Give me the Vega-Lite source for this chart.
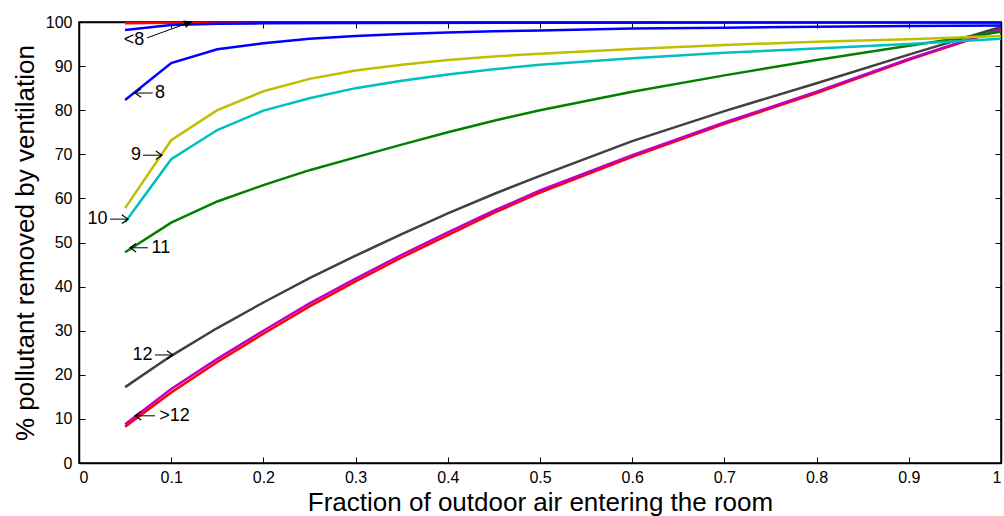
{
  "$schema": "https://vega.github.io/schema/vega-lite/v6.json",
  "width": 922,
  "height": 441,
  "autosize": {"type": "none"},
  "padding": {"left": 79, "top": 22, "right": 3, "bottom": 53},
  "background": "white",
  "config": {
    "view": {"stroke": "#000000", "strokeWidth": 1.5},
    "font": "Liberation Sans"
  },
  "datasets": {
    "curves": [
      {"s": "red_low", "x": 0.05, "y": 8.2}, {"s": "red_low", "x": 0.1, "y": 16.0}, {"s": "red_low", "x": 0.15, "y": 22.9}, {"s": "red_low", "x": 0.2, "y": 29.3}, {"s": "red_low", "x": 0.25, "y": 35.5}, {"s": "red_low", "x": 0.3, "y": 41.2}, {"s": "red_low", "x": 0.35, "y": 46.6}, {"s": "red_low", "x": 0.4, "y": 51.7}, {"s": "red_low", "x": 0.45, "y": 56.7}, {"s": "red_low", "x": 0.5, "y": 61.3}, {"s": "red_low", "x": 0.6, "y": 69.4}, {"s": "red_low", "x": 0.7, "y": 76.9}, {"s": "red_low", "x": 0.8, "y": 83.9}, {"s": "red_low", "x": 0.9, "y": 91.4}, {"s": "red_low", "x": 1.0, "y": 98.3},
      {"s": "magenta", "x": 0.05, "y": 8.8}, {"s": "magenta", "x": 0.1, "y": 16.8}, {"s": "magenta", "x": 0.15, "y": 23.6}, {"s": "magenta", "x": 0.2, "y": 30.0}, {"s": "magenta", "x": 0.25, "y": 36.2}, {"s": "magenta", "x": 0.3, "y": 41.8}, {"s": "magenta", "x": 0.35, "y": 47.2}, {"s": "magenta", "x": 0.4, "y": 52.3}, {"s": "magenta", "x": 0.45, "y": 57.2}, {"s": "magenta", "x": 0.5, "y": 61.8}, {"s": "magenta", "x": 0.6, "y": 69.8}, {"s": "magenta", "x": 0.7, "y": 77.2}, {"s": "magenta", "x": 0.8, "y": 84.2}, {"s": "magenta", "x": 0.9, "y": 91.6}, {"s": "magenta", "x": 1.0, "y": 98.4},
      {"s": "gray", "x": 0.05, "y": 17.2}, {"s": "gray", "x": 0.1, "y": 24.3}, {"s": "gray", "x": 0.15, "y": 30.6}, {"s": "gray", "x": 0.2, "y": 36.4}, {"s": "gray", "x": 0.25, "y": 41.9}, {"s": "gray", "x": 0.3, "y": 47.0}, {"s": "gray", "x": 0.35, "y": 51.9}, {"s": "gray", "x": 0.4, "y": 56.6}, {"s": "gray", "x": 0.45, "y": 61.0}, {"s": "gray", "x": 0.5, "y": 65.1}, {"s": "gray", "x": 0.6, "y": 73.0}, {"s": "gray", "x": 0.7, "y": 79.8}, {"s": "gray", "x": 0.8, "y": 86.1}, {"s": "gray", "x": 0.9, "y": 92.6}, {"s": "gray", "x": 1.0, "y": 98.9},
      {"s": "green", "x": 0.05, "y": 47.8}, {"s": "green", "x": 0.1, "y": 54.5}, {"s": "green", "x": 0.15, "y": 59.3}, {"s": "green", "x": 0.2, "y": 63.0}, {"s": "green", "x": 0.25, "y": 66.4}, {"s": "green", "x": 0.3, "y": 69.3}, {"s": "green", "x": 0.35, "y": 72.2}, {"s": "green", "x": 0.4, "y": 75.0}, {"s": "green", "x": 0.45, "y": 77.6}, {"s": "green", "x": 0.5, "y": 80.0}, {"s": "green", "x": 0.6, "y": 84.2}, {"s": "green", "x": 0.7, "y": 87.9}, {"s": "green", "x": 0.8, "y": 91.4}, {"s": "green", "x": 0.9, "y": 94.6}, {"s": "green", "x": 1.0, "y": 97.8},
      {"s": "cyan", "x": 0.05, "y": 54.6}, {"s": "cyan", "x": 0.1, "y": 68.9}, {"s": "cyan", "x": 0.15, "y": 75.5}, {"s": "cyan", "x": 0.2, "y": 79.9}, {"s": "cyan", "x": 0.25, "y": 82.7}, {"s": "cyan", "x": 0.3, "y": 85.0}, {"s": "cyan", "x": 0.35, "y": 86.7}, {"s": "cyan", "x": 0.4, "y": 88.1}, {"s": "cyan", "x": 0.45, "y": 89.3}, {"s": "cyan", "x": 0.5, "y": 90.3}, {"s": "cyan", "x": 0.6, "y": 91.8}, {"s": "cyan", "x": 0.7, "y": 93.0}, {"s": "cyan", "x": 0.8, "y": 94.0}, {"s": "cyan", "x": 0.9, "y": 95.0}, {"s": "cyan", "x": 1.0, "y": 96.2},
      {"s": "yellow", "x": 0.05, "y": 57.8}, {"s": "yellow", "x": 0.1, "y": 73.2}, {"s": "yellow", "x": 0.15, "y": 80.0}, {"s": "yellow", "x": 0.2, "y": 84.3}, {"s": "yellow", "x": 0.25, "y": 87.1}, {"s": "yellow", "x": 0.3, "y": 89.0}, {"s": "yellow", "x": 0.35, "y": 90.3}, {"s": "yellow", "x": 0.4, "y": 91.4}, {"s": "yellow", "x": 0.45, "y": 92.2}, {"s": "yellow", "x": 0.5, "y": 92.8}, {"s": "yellow", "x": 0.6, "y": 93.9}, {"s": "yellow", "x": 0.7, "y": 94.8}, {"s": "yellow", "x": 0.8, "y": 95.5}, {"s": "yellow", "x": 0.9, "y": 96.1}, {"s": "yellow", "x": 1.0, "y": 96.8},
      {"s": "blue8", "x": 0.05, "y": 82.3}, {"s": "blue8", "x": 0.1, "y": 90.7}, {"s": "blue8", "x": 0.15, "y": 93.8}, {"s": "blue8", "x": 0.2, "y": 95.2}, {"s": "blue8", "x": 0.25, "y": 96.2}, {"s": "blue8", "x": 0.3, "y": 96.8}, {"s": "blue8", "x": 0.35, "y": 97.3}, {"s": "blue8", "x": 0.4, "y": 97.6}, {"s": "blue8", "x": 0.45, "y": 97.9}, {"s": "blue8", "x": 0.5, "y": 98.1}, {"s": "blue8", "x": 0.6, "y": 98.5}, {"s": "blue8", "x": 0.7, "y": 98.7}, {"s": "blue8", "x": 0.8, "y": 98.9}, {"s": "blue8", "x": 0.9, "y": 99.1}, {"s": "blue8", "x": 1.0, "y": 99.2},
      {"s": "red_top", "x": 0.05, "y": 99.7}, {"s": "red_top", "x": 0.1, "y": 99.85}, {"s": "red_top", "x": 0.2, "y": 99.9}, {"s": "red_top", "x": 0.5, "y": 99.95}, {"s": "red_top", "x": 1.0, "y": 99.95},
      {"s": "blue_lt8", "x": 0.05, "y": 98.2}, {"s": "blue_lt8", "x": 0.1, "y": 99.3}, {"s": "blue_lt8", "x": 0.15, "y": 99.6}, {"s": "blue_lt8", "x": 0.2, "y": 99.7}, {"s": "blue_lt8", "x": 0.3, "y": 99.8}, {"s": "blue_lt8", "x": 0.5, "y": 99.85}, {"s": "blue_lt8", "x": 1.0, "y": 99.9}
    ],
    "labels": [
      {"t": "<8", "x": 0.0597, "y": 96.0},
      {"t": "8", "x": 0.0879, "y": 83.9},
      {"t": "9", "x": 0.0618, "y": 69.8},
      {"t": "10", "x": 0.0201, "y": 55.3},
      {"t": "11", "x": 0.0889, "y": 48.8},
      {"t": "12", "x": 0.0689, "y": 24.5},
      {"t": ">12", "x": 0.1036, "y": 10.7}
    ],
    "arrows": [
      {"x": 0.0738, "y": 96.4, "x2": 0.1226, "y2": 100.1, "ang": 340, "head": "filled"},
      {"x": 0.080, "y": 83.9, "x2": 0.0607, "y2": 83.9, "ang": 180, "head": "open"},
      {"x": 0.0694, "y": 69.8, "x2": 0.0900, "y2": 69.8, "ang": 0, "head": "open"},
      {"x": 0.0336, "y": 55.3, "x2": 0.0531, "y2": 55.3, "ang": 0, "head": "open"},
      {"x": 0.0748, "y": 48.8, "x2": 0.0553, "y2": 48.8, "ang": 180, "head": "open"},
      {"x": 0.0824, "y": 24.5, "x2": 0.1020, "y2": 24.5, "ang": 0, "head": "open"},
      {"x": 0.0824, "y": 10.7, "x2": 0.0607, "y2": 10.7, "ang": 180, "head": "open"}
    ]
  },
  "layer": [
    {
      "data": {"name": "curves"},
      "mark": {"type": "line", "strokeWidth": 2.5, "clip": true},
      "encoding": {
        "x": {"field": "x", "type": "quantitative",
          "scale": {"domain": [0, 1], "nice": false},
          "axis": {"orient": "bottom", "values": [0, 0.1, 0.2, 0.3, 0.4, 0.5, 0.6, 0.7, 0.8, 0.9, 1], "format": ".1~f",
            "title": "Fraction of outdoor air entering the room", "grid": false,
            "tickSize": -6, "tickColor": "#000000", "tickWidth": 1, "domainColor": "#000000", "domainWidth": 1.5,
            "labelFont": "Liberation Sans", "labelFontSize": 16, "labelColor": "#000000", "labelPadding": 12,
            "titleFont": "Liberation Sans", "titleFontSize": 26, "titleFontWeight": "normal", "titleColor": "#000000", "titlePadding": 4}},
        "y": {"field": "y", "type": "quantitative",
          "scale": {"domain": [0, 100], "nice": false},
          "axis": {"orient": "left", "values": [0, 10, 20, 30, 40, 50, 60, 70, 80, 90, 100],
            "title": "% pollutant removed by ventilation", "grid": false,
            "tickSize": -6, "tickColor": "#000000", "tickWidth": 1, "domainColor": "#000000", "domainWidth": 1.5,
            "labelFont": "Liberation Sans", "labelFontSize": 16, "labelColor": "#000000", "labelPadding": 13,
            "titleFont": "Liberation Sans", "titleFontSize": 26, "titleFontWeight": "normal", "titleColor": "#000000", "titlePadding": 7}},
        "detail": {"field": "s"},
        "color": {"field": "s", "type": "nominal", "legend": null,
          "scale": {"domain": ["red_low", "magenta", "gray", "green", "cyan", "yellow", "blue8", "red_top", "blue_lt8"],
            "range": ["#ff0000", "#bf00bf", "#404040", "#008000", "#00bfbf", "#bfbf00", "#0000ff", "#ff0000", "#0000ff"]}}
      }
    },
    {
      "data": {"name": "arrows"},
      "mark": {"type": "rule", "color": "#000000", "strokeWidth": 1},
      "encoding": {
        "x": {"field": "x", "type": "quantitative", "axis": null},
        "y": {"field": "y", "type": "quantitative", "axis": null},
        "x2": {"field": "x2"},
        "y2": {"field": "y2"}
      }
    },
    {
      "data": {"name": "arrows"},
      "transform": [{"filter": "datum.head == 'open'"}],
      "mark": {"type": "point", "shape": "M-1,-0.7L0,0L-1,0.7", "filled": false, "stroke": "#000000", "strokeWidth": 1.2, "size": 150, "opacity": 1},
      "encoding": {
        "x": {"field": "x2", "type": "quantitative", "axis": null},
        "y": {"field": "y2", "type": "quantitative", "axis": null},
        "angle": {"field": "ang", "type": "quantitative", "scale": null}
      }
    },
    {
      "data": {"name": "arrows"},
      "transform": [{"filter": "datum.head == 'filled'"}],
      "mark": {"type": "point", "shape": "M-1,-0.5L0,0L-1,0.5Z", "filled": true, "fill": "#000000", "size": 250, "opacity": 1},
      "encoding": {
        "x": {"field": "x2", "type": "quantitative", "axis": null},
        "y": {"field": "y2", "type": "quantitative", "axis": null},
        "angle": {"field": "ang", "type": "quantitative", "scale": null}
      }
    },
    {
      "data": {"name": "labels"},
      "mark": {"type": "text", "font": "Liberation Sans", "fontSize": 18, "color": "#000000", "align": "center", "baseline": "middle"},
      "encoding": {
        "x": {"field": "x", "type": "quantitative",
          "axis": {"orient": "top", "values": [0, 0.1, 0.2, 0.3, 0.4, 0.5, 0.6, 0.7, 0.8, 0.9, 1], "labels": false, "title": null, "grid": false,
            "tickSize": -6, "tickColor": "#000000", "domainColor": "#000000", "domainWidth": 1.5}},
        "y": {"field": "y", "type": "quantitative",
          "axis": {"orient": "right", "values": [0, 10, 20, 30, 40, 50, 60, 70, 80, 90, 100], "labels": false, "title": null, "grid": false,
            "tickSize": -6, "tickColor": "#000000", "domainColor": "#000000", "domainWidth": 1.5}},
        "text": {"field": "t"}
      }
    }
  ],
  "resolve": {"axis": {"x": "independent", "y": "independent"}}
}
